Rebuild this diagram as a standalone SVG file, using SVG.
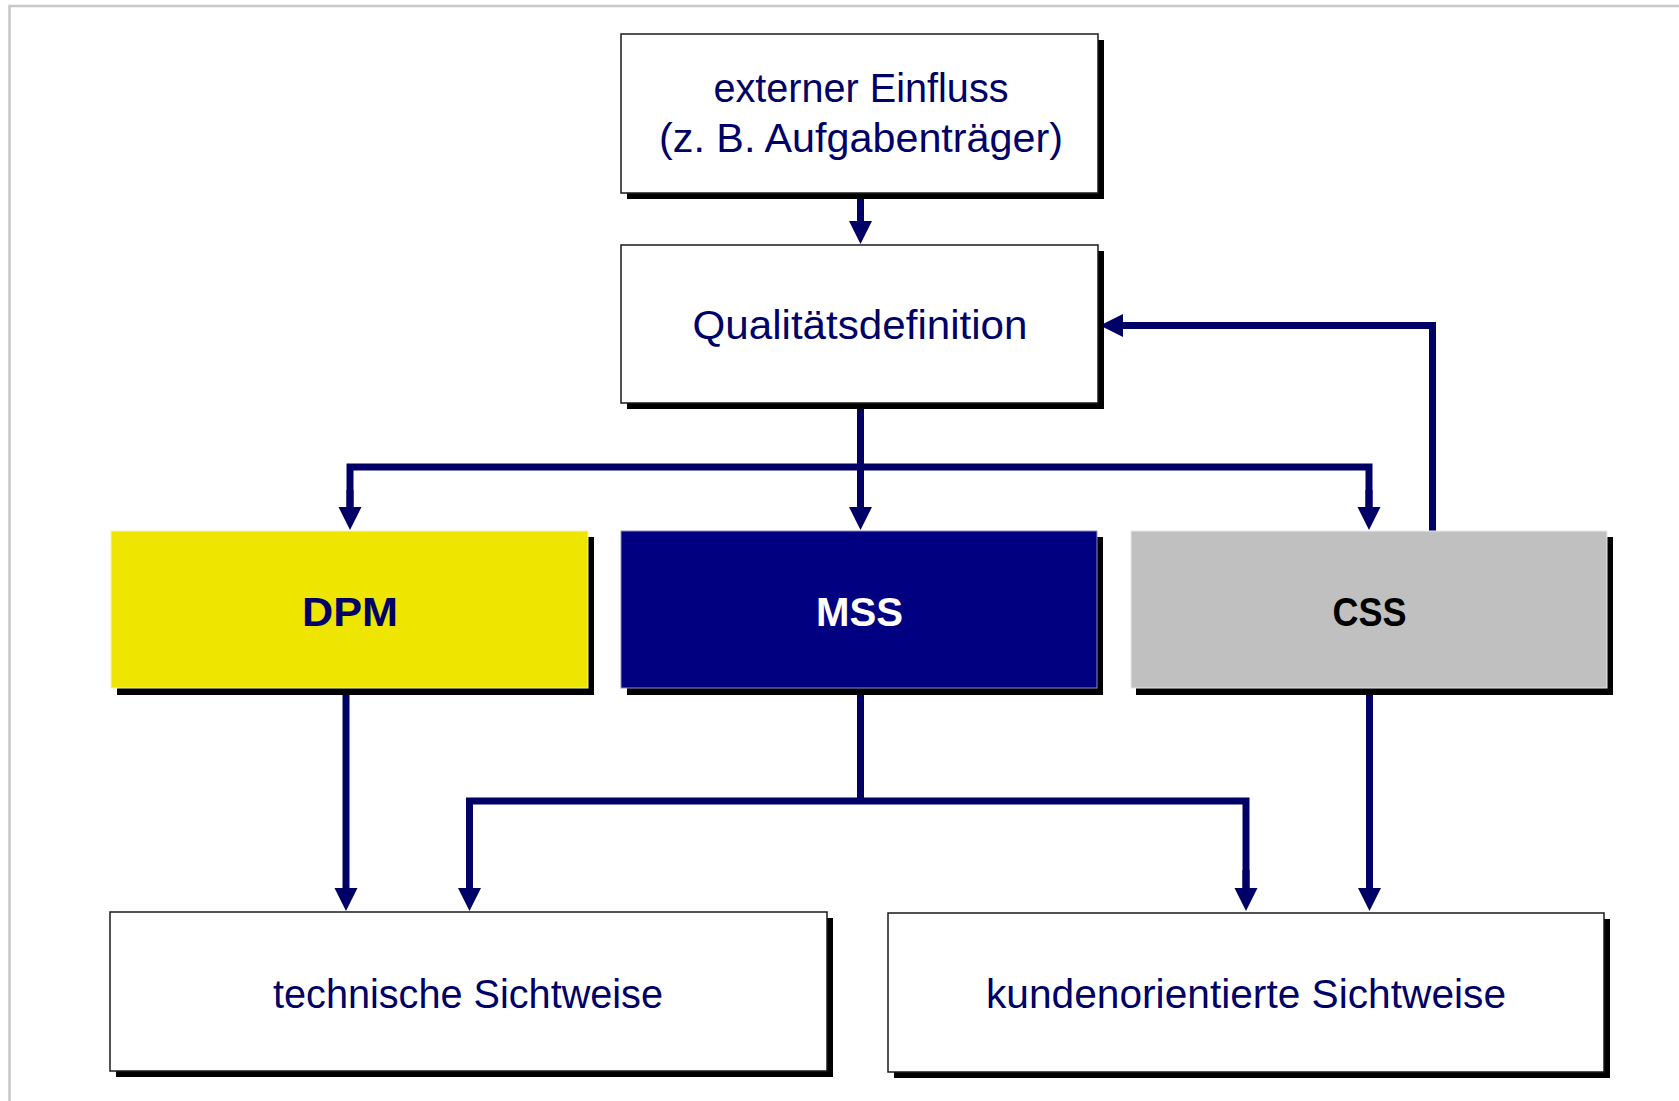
<svg xmlns="http://www.w3.org/2000/svg" width="1679" height="1101" viewBox="0 0 1679 1101">
  <defs>
    <style>
      .frame { stroke: #c8c8c8; stroke-width: 2.5; fill: none; }
      .shadow { fill: #000000; }
      .box { fill: #ffffff; stroke: #1a1a1a; stroke-width: 1.5; }
      .lbl { font-family: "Liberation Sans", Arial, sans-serif; font-size: 40px; fill: #000066; text-anchor: middle; }
      .bold { font-family: "Liberation Sans", Arial, sans-serif; font-size: 41px; font-weight: bold; text-anchor: middle; }
      .conn { stroke: #000066; stroke-width: 7; fill: none; stroke-linecap: butt; stroke-linejoin: miter; }
    </style>
    <marker id="arrow" markerUnits="userSpaceOnUse" markerWidth="24" markerHeight="24" refX="1" refY="11.5" orient="auto">
      <path d="M0,0 L23,11.5 L0,23 Z" fill="#000066"/>
    </marker>
  </defs>

  <rect width="1679" height="1101" fill="#ffffff"/>
  <!-- page frame -->
  <path class="frame" d="M9.5,1101 L9.5,6 L1679,6"/>

  <!-- connectors -->
  <g id="connectors">
    <path class="conn" d="M860.5,193 L860.5,222" marker-end="url(#arrow)"/>
    <path class="conn" d="M1432.5,531 L1432.5,325.5 L1122,325.5" marker-end="url(#arrow)"/>
    <path class="conn" d="M860.5,404 L860.5,508" marker-end="url(#arrow)"/>
    <path class="conn" d="M350,508 L350,467 L1369,467 L1369,508"/>
    <path class="conn" d="M350,490 L350,508" marker-end="url(#arrow)"/>
    <path class="conn" d="M1369,490 L1369,508" marker-end="url(#arrow)"/>
    <path class="conn" d="M346,688 L346,889" marker-end="url(#arrow)"/>
    <path class="conn" d="M860.5,688 L860.5,801"/>
    <path class="conn" d="M469.5,889 L469.5,801 L1246,801 L1246,889"/>
    <path class="conn" d="M469.5,870 L469.5,889" marker-end="url(#arrow)"/>
    <path class="conn" d="M1246,870 L1246,889" marker-end="url(#arrow)"/>
    <path class="conn" d="M1369.5,688 L1369.5,889" marker-end="url(#arrow)"/>
  </g>

  <g id="extern">
    <rect class="shadow" x="627" y="40" width="477" height="159"/>
    <rect class="box" x="621" y="34" width="477" height="159"/>
    <text class="lbl" x="861" y="102" textLength="295" lengthAdjust="spacingAndGlyphs">externer Einfluss</text>
    <text class="lbl" x="861" y="152" textLength="404" lengthAdjust="spacingAndGlyphs">(z. B. Aufgabenträger)</text>
  </g>

  <g id="qualitaet">
    <rect class="shadow" x="627" y="251" width="477" height="158"/>
    <rect class="box" x="621" y="245" width="477" height="158"/>
    <text class="lbl" x="860" y="339" textLength="335" lengthAdjust="spacingAndGlyphs">Qualitätsdefinition</text>
  </g>

  <g id="dpm">
    <rect class="shadow" x="117" y="537" width="477" height="158"/>
    <rect x="111" y="531" width="477" height="157" fill="#eee600" stroke="#f4f2b0" stroke-width="1"/>
    <text class="bold" x="350" y="626" fill="#000066" textLength="96" lengthAdjust="spacingAndGlyphs">DPM</text>
  </g>

  <g id="mss">
    <rect class="shadow" x="627" y="537" width="476" height="158"/>
    <rect x="621" y="531" width="476" height="157" fill="#000080" stroke="#8c8cc4" stroke-width="1"/>
    <text class="bold" x="859.5" y="626" fill="#ffffff" textLength="87" lengthAdjust="spacingAndGlyphs">MSS</text>
  </g>

  <g id="css">
    <rect class="shadow" x="1136" y="537" width="477" height="158"/>
    <rect x="1131" y="531" width="476" height="157" fill="#c0c0c0" stroke="#e8e8e8" stroke-width="1"/>
    <text class="bold" x="1369.5" y="626" fill="#000000" textLength="74" lengthAdjust="spacingAndGlyphs">CSS</text>
  </g>

  <g id="technisch">
    <rect class="shadow" x="116" y="918" width="717" height="159"/>
    <rect class="box" x="110" y="912" width="717" height="159"/>
    <text class="lbl" x="468" y="1008" textLength="390" lengthAdjust="spacingAndGlyphs">technische Sichtweise</text>
  </g>

  <g id="kundenorientiert">
    <rect class="shadow" x="894" y="919" width="716" height="159"/>
    <rect class="box" x="888" y="913" width="716" height="159"/>
    <text class="lbl" x="1246" y="1008" textLength="520" lengthAdjust="spacingAndGlyphs">kundenorientierte Sichtweise</text>
  </g>
</svg>
